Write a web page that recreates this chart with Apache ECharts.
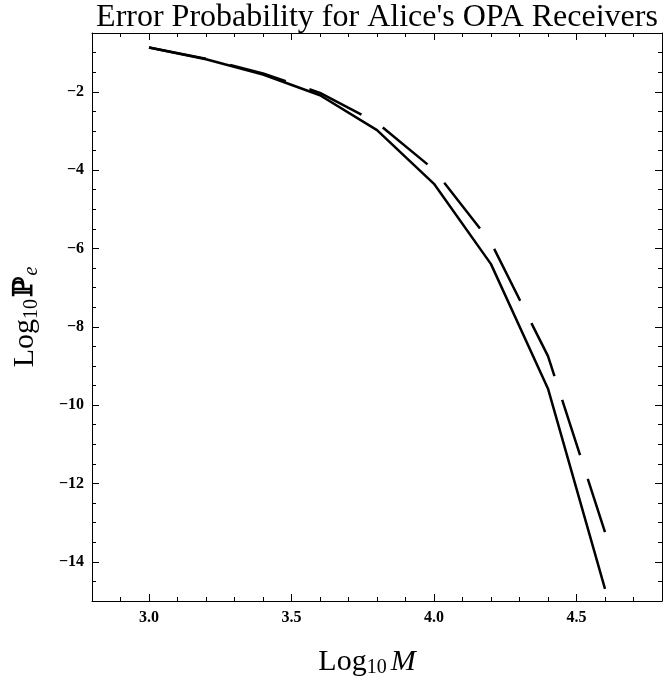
<!DOCTYPE html>
<html>
<head>
<meta charset="utf-8">
<script src="https://cdn.jsdelivr.net/npm/echarts@6/dist/echarts.min.js"></script>
<style>
  html, body { margin: 0; padding: 0; background: #fff; }
  #main { width: 671px; height: 683px; }
</style>
</head>
<body>
<div id="main"></div>
<script>
// Log10 M 取值（曲线折点）
const logM = [3.0, 3.2, 3.4, 3.6, 3.8, 4.0, 4.2, 4.4, 4.6];
// 实线：Log10 Pe
const solidPe = [-0.87, -1.17, -1.56, -2.09, -2.98, -4.35, -6.40, -9.58, -14.69];
// 虚线：Log10 Pe
const dashedPe = [-0.87, -1.16, -1.53, -2.03, -2.79, -3.99, -5.85, -8.75, -13.24];

const serif = '"Liberation Serif", "Times New Roman", serif';
const X_MIN = 2.8, X_MAX = 4.8;
const Y_MIN = -15, Y_MAX = -0.5;

function pairs(xs, ys) {
  return xs.map((x, i) => [x, ys[i]]);
}

const chart = echarts.init(document.getElementById('main'));

const labelStyle = { fontFamily: serif, fontWeight: 'bold', fontSize: 16, color: '#000' };

function xLabel(v) {
  const r = Math.round(v * 10) / 10;
  return Math.abs(r * 2 - Math.round(r * 2)) < 1e-6 && r > X_MIN + 0.01 && r < X_MAX - 0.01 ? r.toFixed(1) : '';
}
function yLabel(v) {
  if (v <= Y_MIN + 0.01 || v >= Y_MAX - 0.01 || Math.round(v) % 2 !== 0) return '';
  return v < 0 ? '\u2212' + Math.abs(v) : String(v);
}

// 细刻度轴 + 主刻度轴（上下左右镜像）
function makeX(position, major, withLabel, name) {
  const ax = {
    type: 'value', position: position, min: X_MIN, max: X_MAX,
    axisLine: { show: major, onZero: false, lineStyle: { color: '#000', width: 1 } },
    axisTick: { show: true, inside: true, length: major ? 7 : 4, lineStyle: { color: '#000', width: 1 } },
    splitLine: { show: false },
    axisLabel: withLabel ? Object.assign({ formatter: xLabel, margin: 9 }, labelStyle) : { show: false }
  };
  if (major) ax.splitNumber = 4; else { ax.interval = 0.1; }
  if (name) {
    ax.name = name;
    ax.nameLocation = 'middle';
    ax.nameGap = 45;
    ax.nameTextStyle = {
      padding: [0, 20, 0, 0],
      rich: {
        a: { fontFamily: serif, fontSize: 30, color: '#000' },
        s: { fontFamily: serif, fontSize: 20, color: '#000', verticalAlign: 'bottom', padding: [12, 4, 0, 0] },
        i: { fontFamily: serif, fontSize: 30, fontStyle: 'italic', color: '#000' }
      }
    };
  }
  return ax;
}
function makeY(position, major, withLabel, name) {
  const ax = {
    type: 'value', position: position, min: Y_MIN, max: Y_MAX,
    axisLine: { show: major, onZero: false, lineStyle: { color: '#000', width: 1 } },
    axisTick: { show: true, inside: true, length: major ? 7 : 4, lineStyle: { color: '#000', width: 1 } },
    splitLine: { show: false },
    axisLabel: withLabel ? Object.assign({ formatter: yLabel, margin: 8 }, labelStyle) : { show: false }
  };
  if (major) ax.splitNumber = 7; else { ax.interval = 0.5; }
  if (name) {
    ax.name = name;
    ax.nameLocation = 'middle';
    ax.nameGap = 50;
    ax.nameTextStyle = {
      rich: {
        a: { fontFamily: serif, fontSize: 30, color: '#000' },
        p: { fontFamily: '"DejaVu Serif", serif', fontWeight: 'bold', fontSize: 27, color: '#000' },
        s: { fontFamily: serif, fontSize: 20, color: '#000', verticalAlign: 'bottom', padding: [12, 2, 0, 0] },
        e: { fontFamily: serif, fontSize: 20, fontStyle: 'italic', color: '#000', verticalAlign: 'bottom', padding: [14, 0, 0, 1] }
      }
    };
  }
  return ax;
}

chart.setOption({
  backgroundColor: '#fff',
  animation: false,
  title: {
    text: "Error Probability for Alice's OPA Receivers",
    left: 372, top: -3, textAlign: 'center',
    textStyle: { fontFamily: serif, fontWeight: 'normal', fontSize: 32, color: '#000' }
  },
  grid: { left: 92, right: 9, top: 33, bottom: 82, containLabel: false },
  xAxis: [
    makeX('bottom', true, true, '{a|Log}{s|10}{i|M}'),
    makeX('bottom', false, false),
    makeX('top', true, false),
    makeX('top', false, false)
  ],
  yAxis: [
    makeY('left', true, true, '{a|Log}{s|10}{p|\u2119}{e|e}'),
    makeY('left', false, false),
    makeY('right', true, false),
    makeY('right', false, false)
  ],
  series: [
    {
      name: 'solid', type: 'line', xAxisIndex: 0, yAxisIndex: 0,
      data: pairs(logM, solidPe), symbol: 'none',
      lineStyle: { color: '#000', width: 2.5, type: 'solid' }
    },
    {
      name: 'dashed', type: 'line', xAxisIndex: 0, yAxisIndex: 0,
      data: pairs(logM, dashedPe), symbol: 'none',
      lineStyle: { color: '#000', width: 2.5, type: [58, 25] }
    }
  ]
});
</script>
</body>
</html>
